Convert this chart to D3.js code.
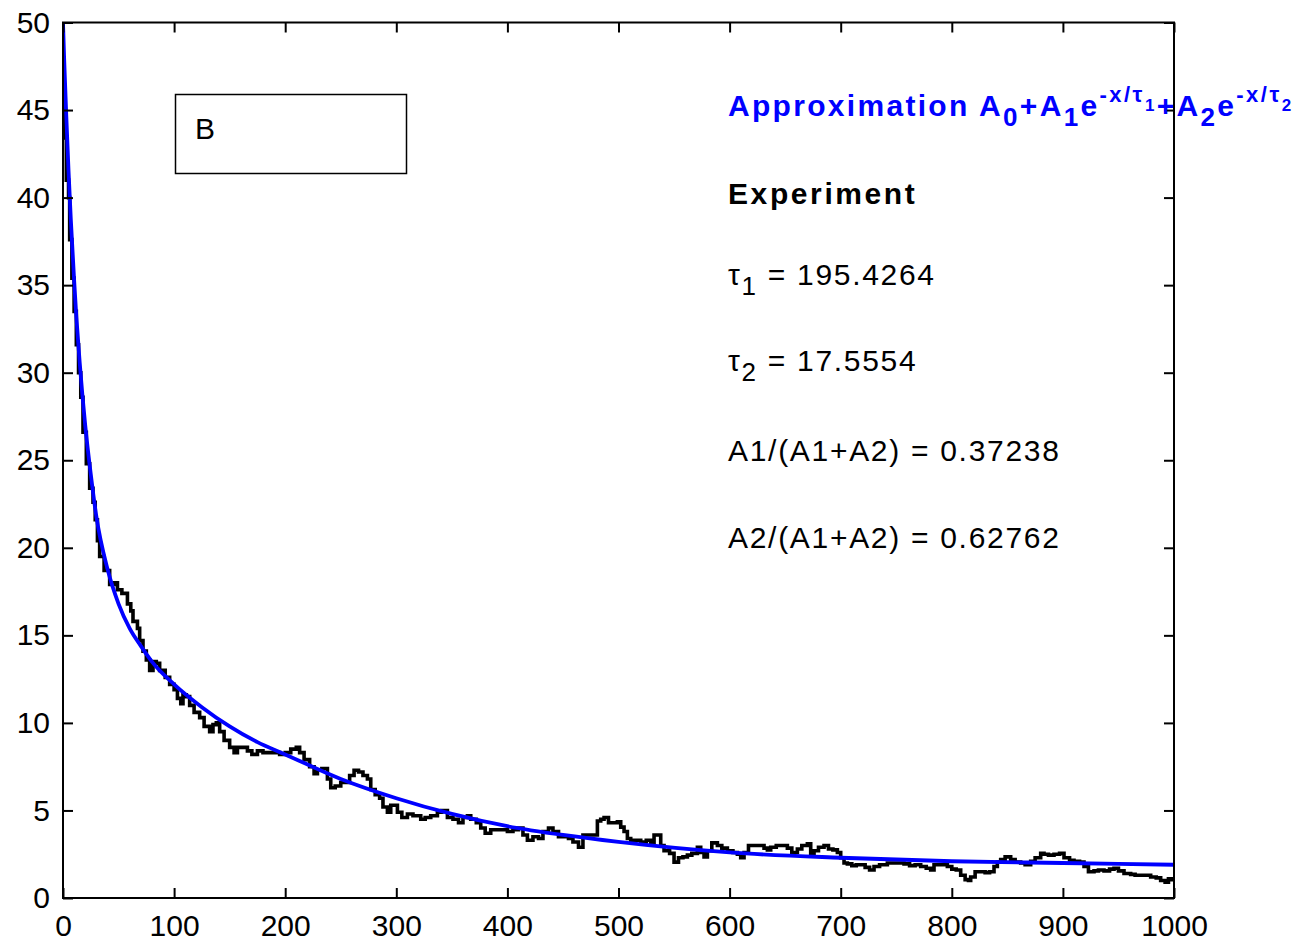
<!DOCTYPE html>
<html>
<head>
<meta charset="utf-8">
<script src="https://cdn.jsdelivr.net/npm/d3@7"></script>
<style>
  html, body { margin: 0; padding: 0; background: #fff; }
  svg { display: block; }
  text { font-family: "Liberation Sans", Arial, sans-serif; }
</style>
</head>
<body>
<svg id="chart" width="1306" height="944"></svg>
<script>
// ---- data ----
const xTicks = [0, 100, 200, 300, 400, 500, 600, 700, 800, 900, 1000];
const yTicks = [0, 5, 10, 15, 20, 25, 30, 35, 40, 45, 50];

// Experiment (black, noisy staircase)
const expX = [0,2,3,5,6,8,10,12,14,16,18,21,24,27,29,31,33,37,42,46,49,53,58,61,63,67,69,72,75,78,81,84,87,92,96,100,103,106,108,111,114,118,123,127,132,135,138,141,145,150,154,157,161,166,170,175,180,184,188,195,200,205,210,213,217,222,226,229,233,238,241,245,250,254,258,262,266,270,274,277,281,285,288,292,295,298,301,305,310,315,322,326,331,337,341,346,351,356,360,364,367,372,376,380,385,390,394,400,405,410,414,418,423,428,432,437,441,446,450,455,459,464,468,472,477,481,484,487,491,496,499,502,505,508,511,516,520,525,529,532,536,538,541,546,550,554,558,562,566,571,574,577,580,584,589,593,598,603,607,610,613,617,622,627,631,634,637,642,646,652,656,661,665,670,673,676,680,685,689,693,697,700,703,706,710,714,718,722,726,730,735,739,742,748,752,757,762,767,772,777,781,784,787,792,796,800,804,808,812,815,817,821,826,830,834,838,841,844,848,853,857,862,866,871,875,880,883,887,892,897,901,906,910,915,919,923,928,932,937,942,946,950,955,961,965,970,975,979,984,988,992,995,998,1000];
const expY = [46.4,46.4,43.4,41.0,40.0,37.6,35.4,33.5,31.6,30.0,28.6,26.6,24.8,23.4,22.6,21.6,20.4,19.5,18.7,17.9,18.0,17.6,17.4,16.8,16.4,15.8,15.4,14.7,14.1,13.6,13.0,13.5,13.4,13.0,12.6,12.2,11.9,11.4,11.1,11.6,11.5,11.0,10.6,10.3,9.8,9.5,9.9,10.0,9.5,9.0,8.6,8.3,8.6,8.6,8.4,8.2,8.4,8.3,8.3,8.3,8.2,8.3,8.5,8.6,8.3,7.9,7.5,7.1,7.3,7.4,6.8,6.3,6.4,6.6,6.6,7.0,7.3,7.2,7.0,6.8,6.2,5.9,5.7,5.2,4.9,5.3,5.3,4.9,4.6,4.8,4.7,4.5,4.6,4.7,4.9,5.0,4.6,4.5,4.3,4.6,4.7,4.5,4.3,4.0,3.7,3.9,3.9,3.9,3.8,3.9,4.0,3.6,3.3,3.5,3.4,3.8,4.0,3.8,3.5,3.5,3.4,3.2,2.9,3.6,3.6,3.6,4.4,4.5,4.6,4.3,4.3,4.35,4.05,3.8,3.4,3.3,3.3,3.2,3.3,3.1,3.6,3.6,3.0,2.7,2.55,2.05,2.3,2.35,2.45,2.55,2.9,2.6,2.35,2.7,3.15,3.0,2.85,2.7,2.6,2.5,2.3,2.6,3.0,3.0,3.0,2.85,2.75,2.9,3.0,3.0,2.85,2.6,2.8,3.0,3.1,2.55,2.7,2.9,3.0,2.8,2.75,2.6,2.3,2.0,1.95,1.85,1.9,1.9,1.75,1.6,1.8,1.9,1.9,2.0,2.0,2.0,1.95,1.85,1.9,1.8,1.7,1.6,1.9,1.9,1.9,1.8,1.65,1.6,1.3,1.05,1.0,1.2,1.5,1.5,1.45,1.5,1.8,2.05,2.2,2.35,2.2,2.05,2.0,1.9,2.1,2.3,2.55,2.5,2.45,2.5,2.55,2.3,2.15,2.1,2.05,1.8,1.5,1.55,1.6,1.55,1.65,1.7,1.55,1.4,1.35,1.3,1.3,1.3,1.2,1.15,1.0,0.9,1.1,1.05];

// Approximation (blue, smooth)
const fitX = [0,1,2,3,5,7,10,12,15,20,25,30,40,50,60,70,80,100,125,150,175,200,250,300,350,400,450,500,600,700,800,900,1000];
const fitY = [50.0,48.0,46.3,44.6,41.5,38.8,35.3,33.2,30.6,27.0,24.2,21.8,18.8,16.8,15.4,14.4,13.5,12.2,10.9,9.8,8.9,8.2,6.8,5.7,4.8,4.1,3.6,3.2,2.6,2.3,2.1,2.0,1.9];

const infoLines = ["Experiment", "= 195.4264", "= 17.5554", "A1/(A1+A2) = 0.37238", "A2/(A1+A2) = 0.62762"];

// ---- layout ----
const svg = d3.select("#chart");
const L = 63, R = 1174, T = 22.5, B = 898;
const x = d3.scaleLinear().domain([0, 1000]).range([L, R]);
const y = d3.scaleLinear().domain([0, 50]).range([B, T]);

svg.append("rect").attr("width", 1306).attr("height", 944).attr("fill", "#fff");

svg.append("defs").append("clipPath").attr("id", "clip")
  .append("rect").attr("x", L).attr("y", T - 2).attr("width", R - L).attr("height", B - T + 2);

const plot = svg.append("g").attr("clip-path", "url(#clip)");

const expData = expX.map((v, i) => [v, expY[i]]);
const fitData = fitX.map((v, i) => [v, fitY[i]]);

plot.append("path")
  .datum(expData)
  .attr("fill", "none")
  .attr("stroke", "#000")
  .attr("stroke-width", 3.6)
  .attr("d", d3.line().x(d => x(d[0])).y(d => y(d[1])).curve(d3.curveStepBefore));

plot.append("path")
  .datum(fitData)
  .attr("fill", "none")
  .attr("stroke", "#0000ff")
  .attr("stroke-width", 3.8)
  .attr("d", d3.line().x(d => x(d[0])).y(d => y(d[1])).curve(d3.curveMonotoneX));

// ---- axes (box with inward ticks) ----
const tickLen = 10;
const axStyle = g => {
  g.select(".domain").remove();
  g.selectAll(".tick line").attr("stroke", "#000").attr("stroke-width", 2);
};

const axBottom = svg.append("g").attr("transform", `translate(0,${B})`)
  .call(d3.axisBottom(x).tickValues(xTicks).tickSizeInner(-tickLen).tickSizeOuter(0).tickPadding(17).tickFormat(d3.format("d")));
axStyle(axBottom);
axBottom.selectAll(".tick text").attr("font-size", 30).attr("fill", "#000").attr("font-family", "Liberation Sans, Arial, sans-serif");

const axTop = svg.append("g").attr("transform", `translate(0,${T})`)
  .call(d3.axisTop(x).tickValues(xTicks).tickSizeInner(-tickLen).tickSizeOuter(0).tickFormat(""));
axStyle(axTop);

const axLeft = svg.append("g").attr("transform", `translate(${L},0)`)
  .call(d3.axisLeft(y).tickValues(yTicks).tickSizeInner(-tickLen).tickSizeOuter(0).tickPadding(13).tickFormat(d3.format("d")));
axStyle(axLeft);
axLeft.selectAll(".tick text").attr("font-size", 30).attr("fill", "#000").attr("font-family", "Liberation Sans, Arial, sans-serif");

const axRight = svg.append("g").attr("transform", `translate(${R},0)`)
  .call(d3.axisRight(y).tickValues(yTicks).tickSizeInner(-tickLen).tickSizeOuter(0).tickFormat(""));
axStyle(axRight);

svg.append("rect")
  .attr("x", L).attr("y", T).attr("width", R - L).attr("height", B - T)
  .attr("fill", "none").attr("stroke", "#000").attr("stroke-width", 2);

// ---- box "B" ----
svg.append("rect")
  .attr("x", 175.5).attr("y", 94.5).attr("width", 231).attr("height", 79)
  .attr("fill", "none").attr("stroke", "#000").attr("stroke-width", 1.5);
svg.append("text").attr("x", 195).attr("y", 139).attr("font-size", 30).attr("fill", "#000").text("B");

// ---- annotations ----
const tx = 728;
const ap = svg.append("text").attr("x", tx).attr("y", 116)
  .attr("fill", "#0000ff").attr("font-weight", "bold").attr("font-size", 30).attr("letter-spacing", 2.3);
ap.append("tspan").text("Approximation A");
ap.append("tspan").attr("font-size", 26).attr("dy", 10).text("0");
ap.append("tspan").attr("dy", -10).text("+A");
ap.append("tspan").attr("font-size", 26).attr("dy", 10).text("1");
ap.append("tspan").attr("dy", -10).text("e");
ap.append("tspan").attr("font-size", 22).attr("letter-spacing", 2.5).attr("dy", -14).text("-x/τ");
ap.append("tspan").attr("font-size", 17).attr("dy", 9).text("1");
ap.append("tspan").attr("dy", 5).text("+A");
ap.append("tspan").attr("font-size", 26).attr("dy", 10).text("2");
ap.append("tspan").attr("dy", -10).text("e");
ap.append("tspan").attr("font-size", 22).attr("letter-spacing", 2.5).attr("dy", -14).text("-x/τ");
ap.append("tspan").attr("font-size", 17).attr("dy", 9).text("2");

svg.append("text").attr("x", tx).attr("y", 204).attr("font-size", 30).attr("font-weight", "bold")
  .attr("letter-spacing", 2.6).attr("fill", "#000").text(infoLines[0]);

const t1 = svg.append("text").attr("x", tx).attr("y", 285).attr("font-size", 30).attr("letter-spacing", 1.7).attr("fill", "#000");
t1.append("tspan").text("τ");
t1.append("tspan").attr("font-size", 26).attr("dy", 10).text("1");
t1.append("tspan").attr("dy", -10).text(" " + infoLines[1]);

const t2 = svg.append("text").attr("x", tx).attr("y", 371).attr("font-size", 30).attr("letter-spacing", 1.7).attr("fill", "#000");
t2.append("tspan").text("τ");
t2.append("tspan").attr("font-size", 26).attr("dy", 10).text("2");
t2.append("tspan").attr("dy", -10).text(" " + infoLines[2]);

svg.append("text").attr("x", tx).attr("y", 461).attr("font-size", 30).attr("letter-spacing", 1.7).attr("fill", "#000").text(infoLines[3]);
svg.append("text").attr("x", tx).attr("y", 548).attr("font-size", 30).attr("letter-spacing", 1.7).attr("fill", "#000").text(infoLines[4]);
</script>
</body>
</html>
